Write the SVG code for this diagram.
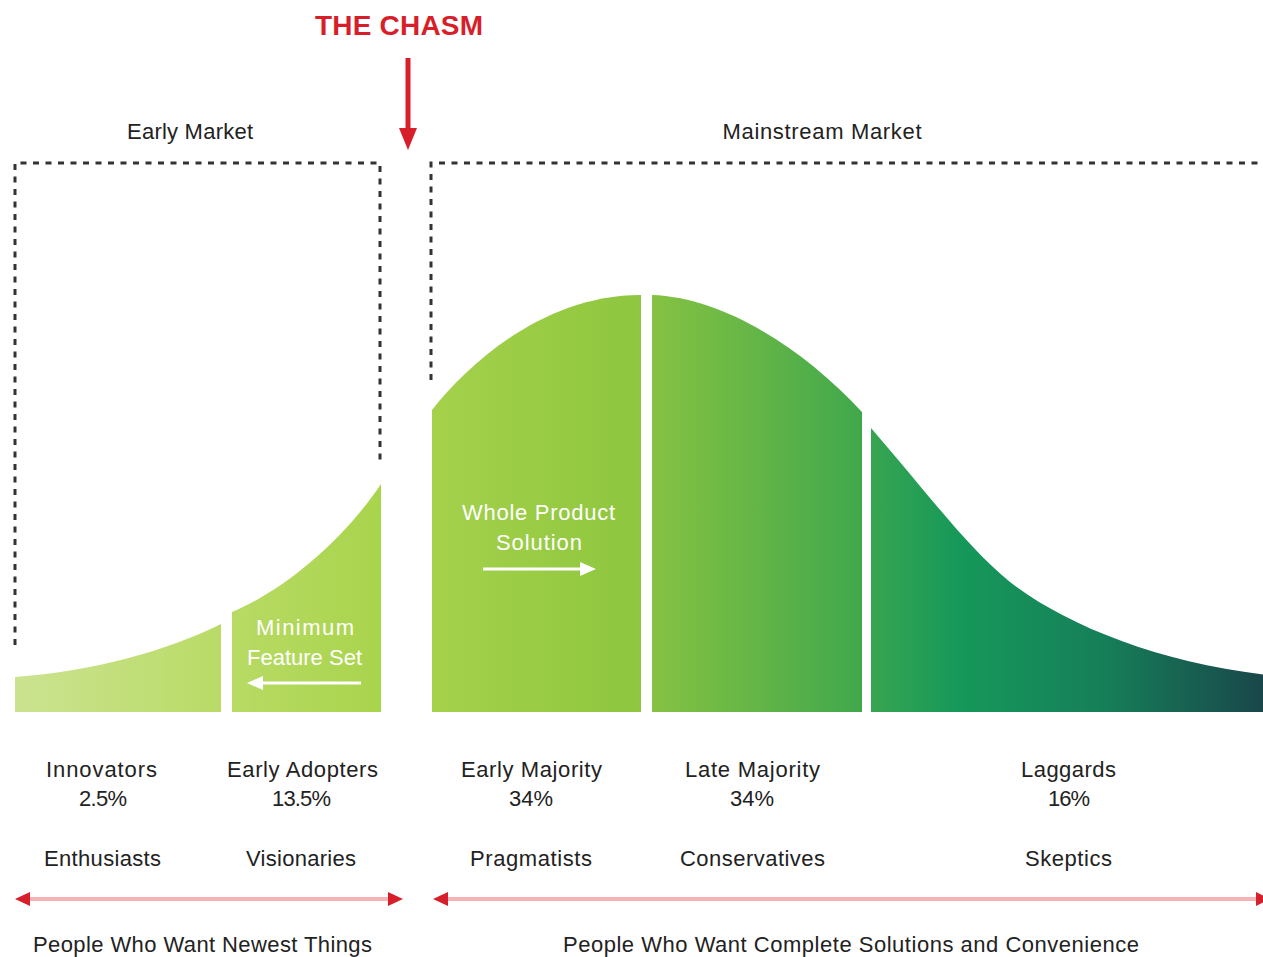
<svg xmlns="http://www.w3.org/2000/svg" width="1263" height="957" viewBox="0 0 1263 957">
<defs>
<linearGradient id="bell" gradientUnits="userSpaceOnUse" x1="15" y1="0" x2="1263" y2="0">
<stop offset="0" stop-color="#cbe391"/>
<stop offset="0.165" stop-color="#b9db66"/>
<stop offset="0.293" stop-color="#a9d44d"/>
<stop offset="0.334" stop-color="#a5d14b"/>
<stop offset="0.502" stop-color="#8ec63f"/>
<stop offset="0.51" stop-color="#86c242"/>
<stop offset="0.679" stop-color="#40a84c"/>
<stop offset="0.686" stop-color="#37a551"/>
<stop offset="0.757" stop-color="#16985a"/>
<stop offset="0.869" stop-color="#168059"/>
<stop offset="1" stop-color="#19474a"/>
</linearGradient>
</defs>
<style>
.seg{fill:url(#bell)}
.lbl{font-family:"Liberation Sans",Arial,sans-serif;font-size:22px;fill:#222;text-anchor:middle}
.wl{font-family:"Liberation Sans",Arial,sans-serif;font-size:22px;fill:#ffffff;text-anchor:middle}
.dot{fill:none;stroke:#333;stroke-width:3;stroke-dasharray:6 6.5}
.pink{stroke:#f5b3b7;stroke-width:4;fill:none}
.red{fill:#d71f2b}
.wline{stroke:#ffffff;stroke-width:3;fill:none}
</style>
<rect width="1263" height="957" fill="#ffffff"/>

<g id="title">
<text x="399" y="35" font-family="'Liberation Sans',Arial,sans-serif" font-size="28" font-weight="bold" fill="#d71f2b" text-anchor="middle" textLength="168">THE CHASM</text>
</g>

<g id="early-market">
<path class="dot" d="M15,645 V163 H380 V462"/>
<text class="lbl" x="190" y="139" fill="#333" textLength="126">Early Market</text>
</g>
<g id="mainstream-market">
<path class="dot" d="M431,380 V163 H1263"/>
<text class="lbl" x="822" y="139" textLength="199">Mainstream Market</text>
</g>

<g id="innovators">
<path class="seg" d="M15,712 L15,677 C90,672 170,650 221,624 L221,712 Z"/>
<text class="lbl" x="101.5" y="777" textLength="111">Innovators</text>
<text class="lbl" x="103" y="806" textLength="48">2.5%</text>
<text class="lbl" x="102.5" y="866" textLength="117">Enthusiasts</text>
</g>
<g id="early-adopters">
<path class="seg" d="M232,712 L232,612 C280,592 340,545 381,484 L381,712 Z"/>
<text class="wl" x="305" y="635" textLength="98">Minimum</text>
<text class="wl" x="304.5" y="665" textLength="115">Feature Set</text>
<text class="lbl" x="302.5" y="777" textLength="151">Early Adopters</text>
<text class="lbl" x="301.5" y="806" textLength="59">13.5%</text>
<text class="lbl" x="301" y="866" textLength="110">Visionaries</text>
</g>
<g id="early-majority">
<path class="seg" d="M432,712 L432,410 C470,362 545,295 641,295 L641,712 Z"/>
<text class="wl" x="538.5" y="520" textLength="153">Whole Product</text>
<text class="wl" x="539" y="550" textLength="86">Solution</text>
<text class="lbl" x="531.5" y="777" textLength="141">Early Majority</text>
<text class="lbl" x="531" y="806" textLength="44">34%</text>
<text class="lbl" x="531" y="866" textLength="122">Pragmatists</text>
</g>
<g id="late-majority">
<path class="seg" d="M652,712 L652,295 C720,297 800,345 862,412 L862,712 Z"/>
<text class="lbl" x="752.5" y="777" textLength="135">Late Majority</text>
<text class="lbl" x="752" y="806" textLength="44">34%</text>
<text class="lbl" x="752.5" y="866" textLength="145">Conservatives</text>
</g>
<g id="laggards">
<path class="seg" d="M871,712 L871,428 C925,490 965,545 1010,582 C1065,625 1160,663 1268,675 L1268,712 Z"/>
<text class="lbl" x="1068.5" y="777" textLength="95">Laggards</text>
<text class="lbl" x="1069" y="806" textLength="42">16%</text>
<text class="lbl" x="1068.5" y="866" textLength="87">Skeptics</text>
</g>
<g id="newest-things">
<text class="lbl" x="202.5" y="952" textLength="339">People Who Want Newest Things</text>
</g>
<g id="complete-solutions">
<text class="lbl" x="851" y="952" textLength="576">People Who Want Complete Solutions and Convenience</text>
</g>

<g id="connectors">
<line x1="408" y1="58" x2="408" y2="130" stroke="#d71f2b" stroke-width="5"/>
<polygon class="red" points="399,128 417,128 408,150"/>
<line class="wline" x1="258" y1="683" x2="361" y2="683"/>
<polygon fill="#ffffff" points="247,683 263,676 263,690"/>
<line class="wline" x1="483" y1="569" x2="584" y2="569"/>
<polygon fill="#ffffff" points="596,569 580,562 580,576"/>
<line class="pink" x1="26" y1="899" x2="392" y2="899"/>
<polygon class="red" points="15,899 30,892 30,906"/>
<polygon class="red" points="403,899 388,892 388,906"/>
<line class="pink" x1="444" y1="899" x2="1258" y2="899"/>
<polygon class="red" points="433,899 448,892 448,906"/>
<polygon class="red" points="1270,899 1256,892 1256,906"/>
</g>
</svg>
